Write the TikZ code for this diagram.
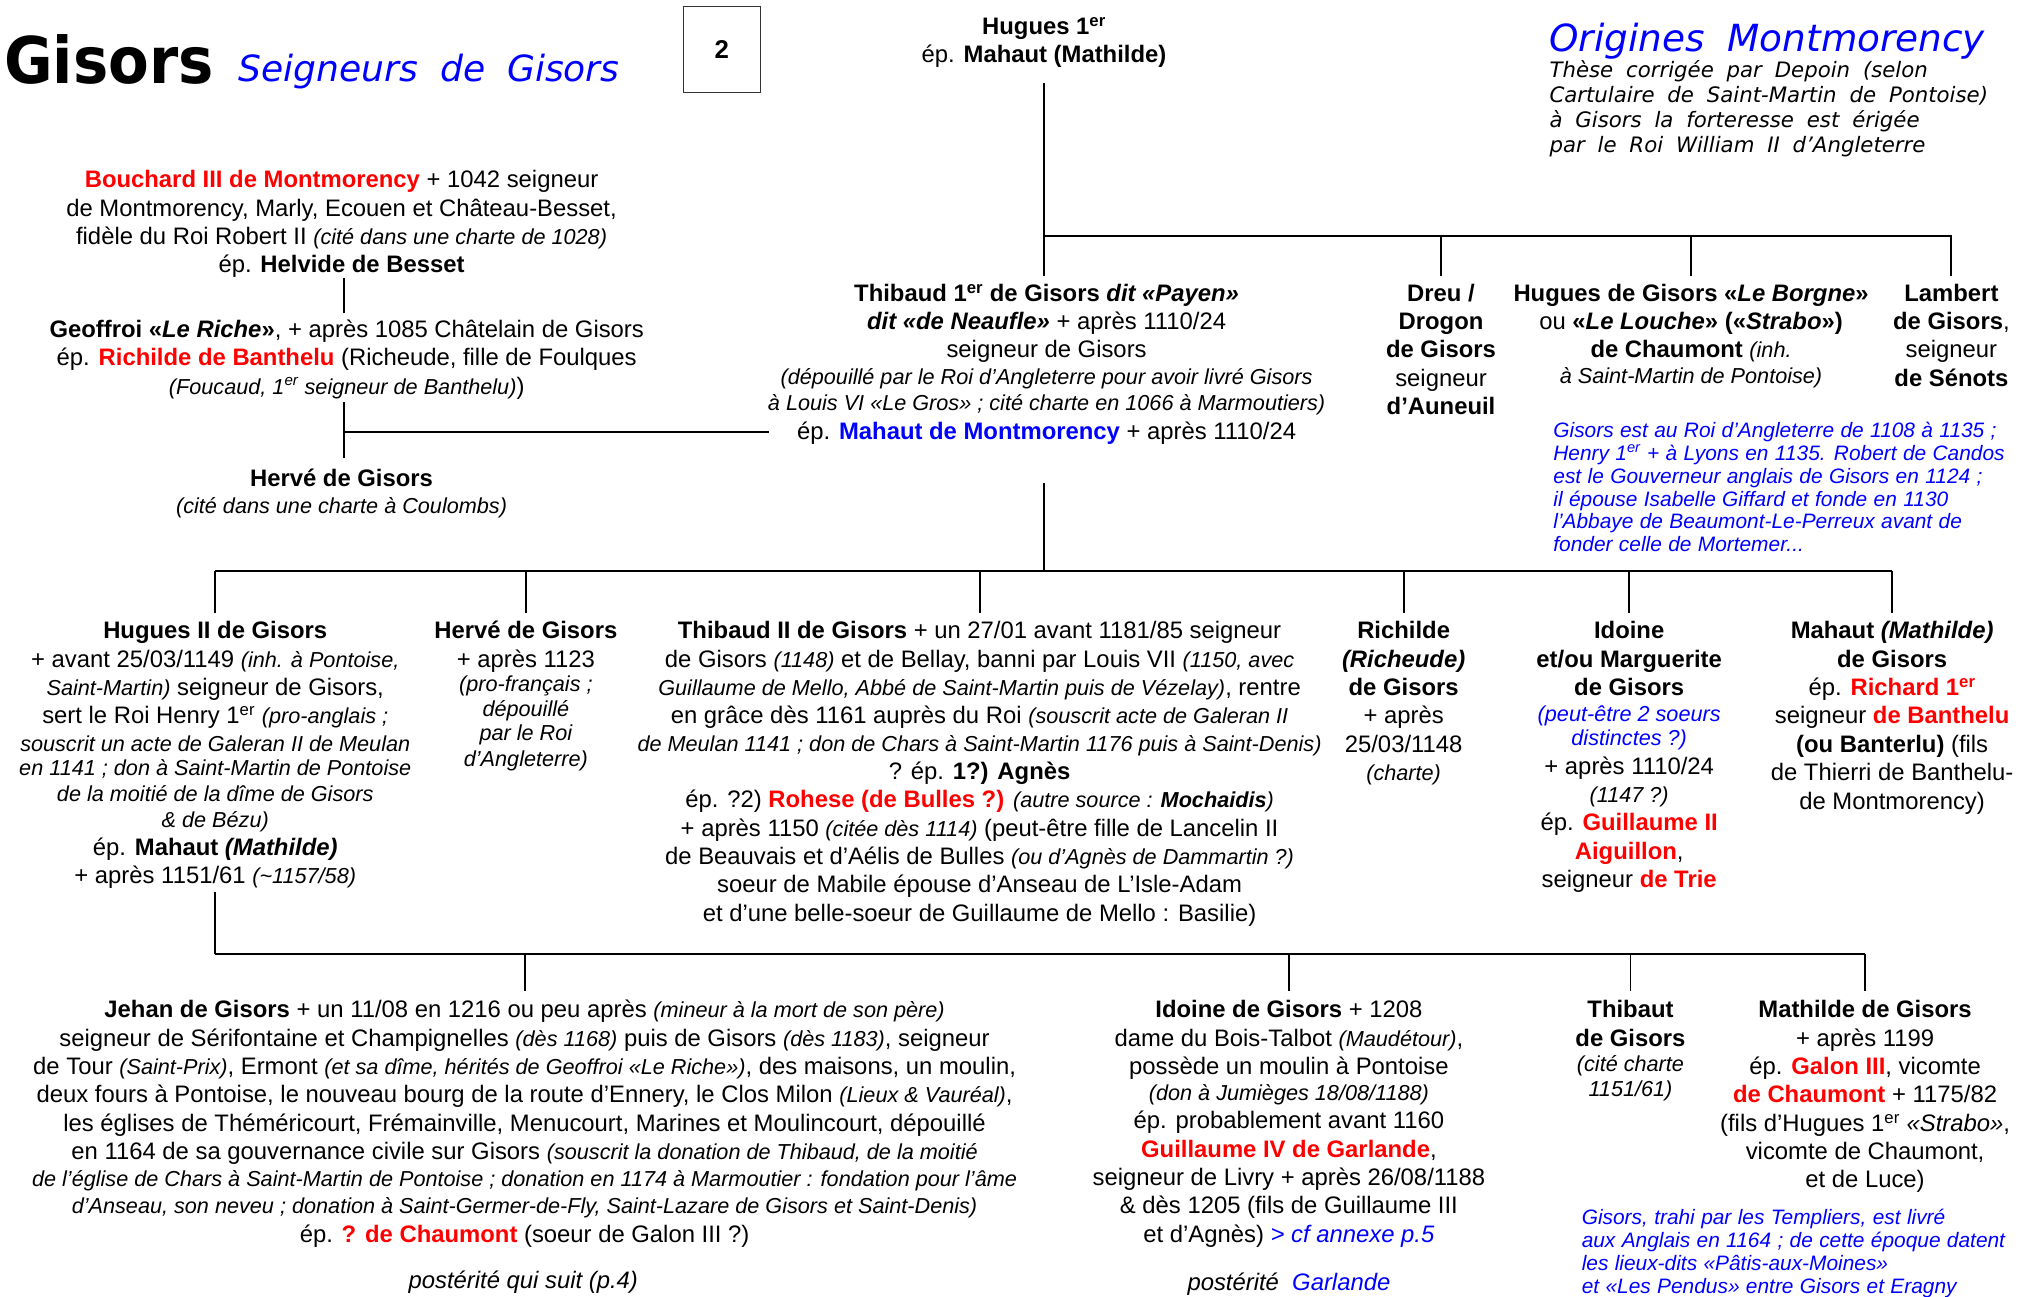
\documentclass[tikz,border=0pt]{standalone}
\usepackage{fontspec}
\setmainfont{Liberation Sans}
\newfontfamily\titlefont[FakeStretch=0.92]{DejaVu Sans}
\newfontfamily\verdfont{DejaVu Sans}
\newfontfamily\verdwide[WordSpace=1.9]{DejaVu Sans}
\newfontfamily\notefont[WordSpace=1.1]{Liberation Sans}
\usetikzlibrary{calc}
\definecolor{gred}{RGB}{255,0,0}
\definecolor{gblue}{RGB}{0,0,255}
% text helpers
\newcommand\gB[1]{\textbf{#1}}
\newcommand\gR[1]{\textbf{\color{gred}#1}}
\newcommand\gBL[1]{\textbf{\color{gblue}#1}}
\newcommand\gS[1]{{\fontsize{16.8}{19}\selectfont\itshape #1}}
\newcommand\gSB[1]{{\fontsize{16.8}{19}\selectfont\itshape\color{gblue}#1}}
\newcommand\gtop{\rule{0pt}{15pt}}
\newcommand\gsp[1]{\textsuperscript{#1}}
\tikzset{
  person/.style={align=center, inner sep=0pt, anchor=north,
    font=\fontsize{18.5}{22}\selectfont},
  bluenote/.style={align=left, inner sep=0pt, anchor=north west, text=gblue,
    font=\notefont\fontsize{16.2}{17.8}\selectfont\itshape},
  link/.style={line width=1.5pt}
}
\begin{document}
\begin{tikzpicture}[x=1pt,y=-1pt]
\fill[white] (0,0) rectangle (1568,1006);
\useasboundingbox (0,0) rectangle (1568,1006);

% ---- headings
\node[anchor=base west, inner sep=0pt] (title) at (3,65)
  {\titlefont\bfseries\fontsize{50}{56}\selectfont Gisors};
\node[anchor=base west, inner sep=0pt, text=gblue] (subtitle) at (185,63)
  {\verdfont\itshape\fontsize{28}{34}\selectfont Seigneurs de Gisors};
\node[draw=black!80, line width=0.8pt, minimum width=60pt, minimum height=67pt,
  inner sep=0pt] (page) at (560,38.5) {\fontsize{20}{24}\selectfont\bfseries 2};
\node[anchor=base west, inner sep=0pt, text=gblue] (orig) at (1202,40)
  {\verdfont\itshape\fontsize{29}{34}\selectfont Origines Montmorency};
\node[anchor=north west, inner sep=0pt, align=left,
  font=\verdwide\itshape\fontsize{16.5}{19.6}\selectfont] (these) at (1202,46.5)
  {\rule{0pt}{13pt}Thèse corrigée par Depoin (selon\\
   Cartulaire de Saint-Martin de Pontoise)\\
   à Gisors la forteresse est érigée\\
   par le Roi William II d’Angleterre};

% ---- generation 0
\node[person] (hug1) at (810,11.5) {\gtop\gB{Hugues 1\gsp{er}}\\
  ép. \gB{Mahaut (Mathilde)}};

\node[person] (bouch) at (265,130.5) {\gtop\gR{Bouchard III de Montmorency} + 1042 seigneur\\
  de Montmorency, Marly, Ecouen et Château-Besset,\\
  fidèle du Roi Robert II \gS{(cité dans une charte de 1028)}\\
  ép. \gB{Helvide de Besset}};

\node[person] (geo) at (269,246.5) {\gtop\gB{Geoffroi «\textit{Le Riche}»}, + après 1085 Châtelain de Gisors\\
  ép. \gR{Richilde de Banthelu} (Richeude, fille de Foulques\\
  \gS{(Foucaud, 1\gsp{er} seigneur de Banthelu)})};

\node[person] (herv1) at (265,362.5) {\gtop\gB{Hervé de Gisors}\\[-1pt]
  \gS{(cité dans une charte à Coulombs)}};

% ---- generation 1
\node[person] (thib1) at (812,218.5) {\gtop\gB{Thibaud 1\gsp{er} de Gisors \textit{dit «Payen»}}\\
  \gB{\textit{dit «de Neaufle»}} + après 1110/24\\
  seigneur de Gisors\\[-1pt]
  \gS{(dépouillé par le Roi d’Angleterre pour avoir livré Gisors}\\[-2pt]
  \gS{à Louis VI «Le Gros» ; cité charte en 1066 à Marmoutiers)}\\
  ép. \gBL{Mahaut de Montmorency} + après 1110/24};

\node[person] (dreu) at (1118,218.5) {\gtop\gB{Dreu /}\\ \gB{Drogon}\\ \gB{de Gisors}\\
  seigneur\\ \gB{d’Auneuil}};

\node[person] (hugb) at (1312,218.5) {\gtop\gB{Hugues de Gisors «\textit{Le Borgne}»}\\
  ou \gB{«\textit{Le Louche}» («\textit{Strabo}»)}\\
  \gB{de Chaumont} \gS{(inh.}\\[-2pt]
  \gS{à Saint-Martin de Pontoise)}};

\node[person] (lamb) at (1514,218.5) {\gtop\gB{Lambert}\\ \gB{de Gisors},\\ seigneur\\
  \gB{de Sénots}};

\node[bluenote] (note1) at (1205,326) {\rule{0pt}{13pt}Gisors est au Roi d’Angleterre de 1108 à 1135 ;\\
  Henry 1\gsp{er} + à Lyons en 1135. Robert de Candos\\
  est le Gouverneur anglais de Gisors en 1124 ;\\
  il épouse Isabelle Giffard et fonde en 1130\\
  l’Abbaye de Beaumont-Le-Perreux avant de\\
  fonder celle de Mortemer...};

% ---- generation 2
\node[person] (hug2) at (167,480.5) {\gtop\gB{Hugues II de Gisors}\\
  + avant 25/03/1149 \gS{(inh. à Pontoise,}\\
  \gS{Saint-Martin)} seigneur de Gisors,\\
  sert le Roi Henry 1\gsp{er} \gS{(pro-anglais ;}\\[-1pt]
  \gS{souscrit un acte de Galeran II de Meulan}\\[-3pt]
  \gS{en 1141 ; don à Saint-Martin de Pontoise}\\[-2pt]
  \gS{de la moitié de la dîme de Gisors}\\[-2pt]
  \gS{\& de Bézu)}\\
  ép. \gB{Mahaut \textit{(Mathilde)}}\\
  + après 1151/61 \gS{(\textasciitilde1157/58)}};

\node[person] (herv2) at (408,480.5) {\gtop\gB{Hervé de Gisors}\\
  + après 1123\\[-3pt]
  \gS{(pro-français ;}\\[-3pt]
  \gS{dépouillé}\\[-3pt]
  \gS{par le Roi}\\[-2pt]
  \gS{d’Angleterre)}};

\node[person] (thib2) at (760,480.5) {\gtop\gB{Thibaud II de Gisors} + un 27/01 avant 1181/85 seigneur\\
  de Gisors \gS{(1148)} et de Bellay, banni par Louis VII \gS{(1150, avec}\\
  \gS{Guillaume de Mello, Abbé de Saint-Martin puis de Vézelay)}, rentre\\
  en grâce dès 1161 auprès du Roi \gS{(souscrit acte de Galeran II}\\[-1pt]
  \gS{de Meulan 1141 ; don de Chars à Saint-Martin 1176 puis à Saint-Denis)}\\
  ? ép. \gB{1?) Agnès}\\
  ép. ?2) \gR{Rohese (de Bulles ?)} \gS{(autre source : \textbf{Mochaidis})}\\
  + après 1150 \gS{(citée dès 1114)} (peut-être fille de Lancelin II\\
  de Beauvais et d’Aélis de Bulles \gS{(ou d’Agnès de Dammartin ?)}\\
  soeur de Mabile épouse d’Anseau de L’Isle-Adam\\
  et d’une belle-soeur de Guillaume de Mello : Basilie)};

\node[person] (rich) at (1089,480.5) {\gtop\gB{Richilde}\\ \gB{\textit{(Richeude)}}\\
  \gB{de Gisors}\\ + après\\ 25/03/1148\\ \gS{(charte)}};

\node[person] (idoi) at (1264,480.5) {\gtop\gB{Idoine}\\ \gB{et/ou Marguerite}\\ \gB{de Gisors}\\[-2pt]
  \gSB{(peut-être 2 soeurs}\\[-3pt]
  \gSB{distinctes ?)}\\
  + après 1110/24\\
  \gS{(1147 ?)}\\
  ép. \gR{Guillaume II}\\
  \gR{Aiguillon},\\
  seigneur \gR{de Trie}};

\node[person] (mah) at (1468,480.5) {\gtop\gB{Mahaut \textit{(Mathilde)}}\\ \gB{de Gisors}\\
  ép. \gR{Richard 1\gsp{er}}\\
  seigneur \gR{de Banthelu}\\
  \gB{(ou Banterlu)} (fils\\
  de Thierri de Banthelu-\\
  de Montmorency)};

% ---- generation 3
\node[person] (jeh) at (407,774.5) {\gtop\gB{Jehan de Gisors} + un 11/08 en 1216 ou peu après \gS{(mineur à la mort de son père)}\\
  seigneur de Sérifontaine et Champignelles \gS{(dès 1168)} puis de Gisors \gS{(dès 1183)}, seigneur\\
  de Tour \gS{(Saint-Prix)}, Ermont \gS{(et sa dîme, hérités de Geoffroi «Le Riche»)}, des maisons, un moulin,\\
  deux fours à Pontoise, le nouveau bourg de la route d’Ennery, le Clos Milon \gS{(Lieux \& Vauréal)},\\
  les églises de Théméricourt, Frémainville, Menucourt, Marines et Moulincourt, dépouillé\\
  en 1164 de sa gouvernance civile sur Gisors \gS{(souscrit la donation de Thibaud, de la moitié}\\[-1pt]
  \gS{de l’église de Chars à Saint-Martin de Pontoise ; donation en 1174 à Marmoutier : fondation pour l’âme}\\[-1pt]
  \gS{d’Anseau, son neveu ; donation à Saint-Germer-de-Fly, Saint-Lazare de Gisors et Saint-Denis)}\\
  ép. \gR{? de Chaumont} (soeur de Galon III ?)};
\node[inner sep=0pt, font=\fontsize{18.5}{22}\selectfont\itshape] (post1) at (406,995)
  {postérité qui suit (p.4)};

\node[person] (idg) at (1000,774.5) {\gtop\gB{Idoine de Gisors} + 1208\\
  dame du Bois-Talbot \gS{(Maudétour)},\\
  possède un moulin à Pontoise\\[-2pt]
  \gS{(don à Jumièges 18/08/1188)}\\
  ép. probablement avant 1160\\
  \gR{Guillaume IV de Garlande},\\
  seigneur de Livry + après 26/08/1188\\
  \& dès 1205 (fils de Guillaume III\\
  et d’Agnès) {\itshape\color{gblue}> cf annexe p.5}};
\node[inner sep=0pt, font=\fontsize{18.5}{22}\selectfont\itshape] (post2) at (1000,996)
  {postérité\ \ {\color{gblue}Garlande}};

\node[person] (thit) at (1265,774.5) {\gtop\gB{Thibaut}\\ \gB{de Gisors}\\[-2pt]
  \gS{(cité charte}\\[-3pt] \gS{1151/61)}};

\node[person] (math) at (1447,774.5) {\gtop\gB{Mathilde de Gisors}\\
  + après 1199\\
  ép. \gR{Galon III}, vicomte\\
  \gR{de Chaumont} + 1175/82\\
  (fils d’Hugues 1\gsp{er} \textit{«Strabo»},\\
  vicomte de Chaumont,\\
  et de Luce)};

\node[bluenote] (note2) at (1227,937) {\rule{0pt}{13pt}Gisors, trahi par les Templiers, est livré\\
  aux Anglais en 1164 ; de cette époque datent\\
  les lieux-dits «Pâtis-aux-Moines»\\
  et «Les Pendus» entre Gisors et Eragny};

% ---- connectors
\coordinate (bar0) at (810,183);
\coordinate (bar1) at (810,443);
\coordinate (bar2) at (167,740);
\coordinate (thibep) at (597,335);

% Hugues 1er -> his sons
\draw[link] ($(hug1.south)+(0,12)$) -- ($(hug1.south |- thib1.north)+(0,-4)$);
\draw[link] (hug1.south |- bar0) -- (lamb.north |- bar0) -- ($(lamb.north)+(0,-4)$);
\foreach \n in {dreu,hugb}
  \draw[link] (\n.north |- bar0) -- ($(\n.north)+(0,-4)$);

% Bouchard -> Geoffroi -> Hervé, and the marriage line
\draw[link] ($(bouch.south)+(2,0)$) -- ($(bouch.south |- geo.north)+(2,-4)$);
\draw[link] ($(geo.south)+(-2,2)$) -- ($(geo.south |- herv1.north)+(-2,-7)$);
\draw[link] ($(geo.south |- thibep)+(-2,0)$) -- (thibep);

% Thibaud 1er -> his children
\draw[link] ($(hug1.south |- thib1.south)+(0,30)$) -- (hug1.south |- bar1);
\draw[link] (hug2.north |- bar1) -- (mah.north |- bar1);
\foreach \n in {hug2,herv2,thib2,rich,idoi,mah}
  \draw[link] (\n.north |- bar1) -- ($(\n.north)+(0,-5)$);

% Hugues II -> his children
\draw[link] ($(hug2.south)+(0,2)$) -- (hug2.south |- bar2);
\draw[link] (hug2.south |- bar2) -- (math.north |- bar2);
\foreach \n in {jeh,idg,thit,math}
  \draw[link] (\n.north |- bar2) -- ($(\n.north)+(0,-6)$);
\end{tikzpicture}
\end{document}
